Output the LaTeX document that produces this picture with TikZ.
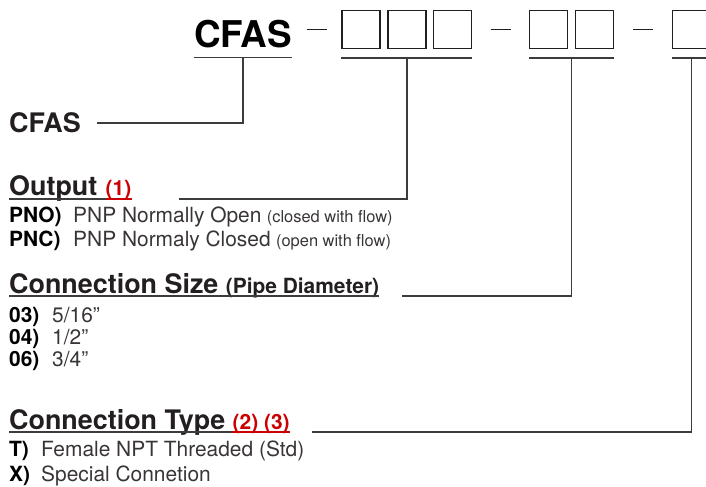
\documentclass[tikz,border=0pt]{standalone}
\usepackage{fontspec}
\setmainfont{TeX Gyre Heros}
\usetikzlibrary{calc,positioning}

\definecolor{ink}{RGB}{35,31,32}
\definecolor{wirec}{RGB}{60,60,60}
\definecolor{redmark}{RGB}{204,0,0}

\begin{document}
\begin{tikzpicture}[
    x=1bp, y=-1bp,
    slot/.style={draw=ink, line width=1.3bp, minimum width=38bp, minimum height=38bp, inner sep=0pt},
    wire/.style={draw=wirec, line width=1.5bp},
    dashbar/.style={draw=ink, line width=1.2bp},
    title/.style={font=\bfseries\fontsize{37}{37}\selectfont, text=black, anchor=base west, inner sep=0pt},
    head/.style={font=\bfseries\fontsize{27}{27}\selectfont, text=ink, anchor=base west, inner sep=0pt},
    note/.style={font=\bfseries\fontsize{21}{21}\selectfont, text=redmark, anchor=base west, inner sep=0pt},
    sub/.style={font=\bfseries\fontsize{21}{21}\selectfont, text=ink, anchor=base west, inner sep=0pt},
    code/.style={font=\bfseries\fontsize{21}{21}\selectfont, text=black, anchor=base west, inner sep=0pt},
    desc/.style={font=\fontsize{21}{21}\selectfont, text=ink!90, anchor=base west, inner sep=0pt},
    aside/.style={font=\fontsize{16.5}{16.5}\selectfont, text=ink!90, anchor=base west, inner sep=0pt},
]
\useasboundingbox (0,0) rectangle (706,487);

% model code at the top
\node[title] (cfas) at (194,48) {CFAS};
\foreach \n/\x in {1/361,2/407,3/452.5,4/548.5,5/594.5,6/691.5}
    \node[slot] (s\n) at (\x,29.5) {};

% dashes between the groups
\coordinate (d1) at ($(cfas.east |- s1.west)!0.5!(s1.west)$);
\coordinate (d2) at ($(s3.east)!0.5!(s4.west)$);
\coordinate (d3) at ($(s5.east)!0.5!(s6.west)$);
\foreach \d in {d1,d2,d3}
    \draw[dashbar] ($(\d)+(-10,0)$) -- ($(\d)+(10,0)$);

% underlines below the groups
\draw[wire] ([yshift=-9bp]cfas.south west) -- ([yshift=-9bp]cfas.south east);
\draw[wire] ([yshift=-9bp]s1.south west) -- ([yshift=-9bp]s3.south east);
\draw[wire] ([yshift=-9bp]s4.south west) -- ([yshift=-9bp]s5.south east);
\draw[wire] ([yshift=-9bp]s6.south west) -- ([yshift=-9bp]s6.south east);
\coordinate (t1) at ($([yshift=-9bp]cfas.south west)!0.5!([yshift=-9bp]cfas.south east)$);
\coordinate (t2) at ($([yshift=-9bp]s1.south west)!0.5!([yshift=-9bp]s3.south east)$);
\coordinate (t3) at ($([yshift=-9bp]s4.south west)!0.5!([yshift=-9bp]s5.south east)$);
\coordinate (t4) at ([yshift=-9bp]s6.south);

% CFAS
\node[head] (lcfas) at (9,133) {CFAS};
\draw[wire] (t1) |- ([xshift=16bp]lcfas.east);

% Output
\node[head] (hout) at (9,196) {Output};
\node[note, right=8bp of hout.base east, anchor=base west] (nout) {(1)};
\draw[wire] ([yshift=-3bp]hout.base west) -- ([yshift=-3bp]nout.base west);
\draw[draw=redmark, line width=1.5bp] ([yshift=-3bp]nout.base west) -- ([yshift=-3bp]nout.base east);
\coordinate (oend) at (179,199);
\draw[wire] (t2) |- (oend);
\node[code] (oc1) at (9,223) {PNO)};
\node[desc] (od1) at (73,223) {PNP Normally Open};
\node[aside, right=5bp of od1.base east, anchor=base west] (oa1) {(closed with flow)};
\node[code] (oc2) at (9,247) {PNC)};
\node[desc] (od2) at (73,247) {PNP Normaly Closed};
\node[aside, right=5bp of od2.base east, anchor=base west] (oa2) {(open with flow)};

% Connection Size
\node[head] (hsize) at (9,293) {Connection Size};
\node[sub, right=7bp of hsize.base east, anchor=base west] (nsize) {(Pipe Diameter)};
\draw[wire] ([yshift=-3bp]hsize.base west) -- ([yshift=-3bp]nsize.base east);
\coordinate (send) at (402,296);
\draw[wire] (t3) |- (send);
\foreach \k/\yy/\cd/\tx in {1/322/03)/{5/16”}, 2/344/04)/{1/2”}, 3/366/06)/{3/4”}} {
    \node[code] (sc\k) at (9,\yy) {\cd};
    \node[desc] (sd\k) at (52,\yy) {\tx};
}

% Connection Type
\node[head] (htype) at (9,429) {Connection Type};
\node[note, right=7bp of htype.base east, anchor=base west] (ntype) {(2) (3)};
\draw[wire] ([yshift=-3bp]htype.base west) -- ([yshift=-3bp]ntype.base west);
\draw[draw=redmark, line width=1.5bp] ([yshift=-3bp]ntype.base west) -- ([yshift=-3bp]ntype.base east);
\coordinate (tend) at (312,432);
\draw[wire] (t4) |- (tend);
\foreach \k/\yy/\cd/\tx in {1/456/T)/{Female NPT Threaded (Std)}, 2/481/X)/{Special Connetion}} {
    \node[code] (tc\k) at (9,\yy) {\cd};
    \node[desc] (td\k) at (41,\yy) {\tx};
}
\end{tikzpicture}
\end{document}
